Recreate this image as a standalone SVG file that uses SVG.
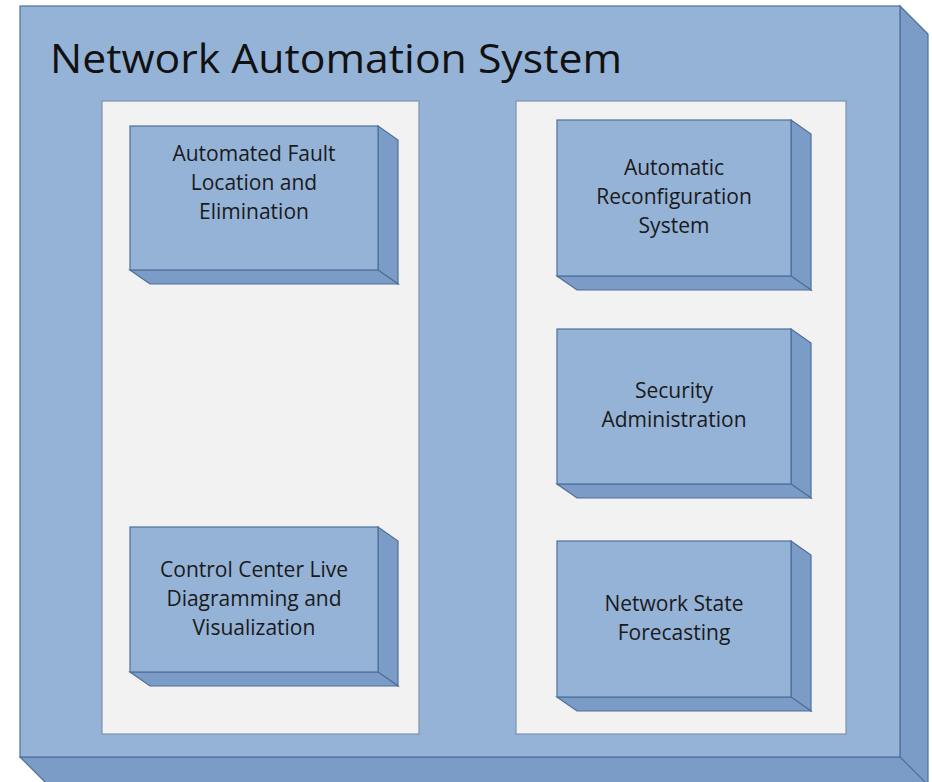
<svg xmlns="http://www.w3.org/2000/svg" width="932" height="782" viewBox="0 0 932 782">
<style>
.front{fill:#95b3d7;stroke:#4f6f99;stroke-width:1.2}
.side{fill:#7c9cc8;stroke:#4f6f99;stroke-width:1.2;stroke-linejoin:miter}
.panel{fill:#f2f2f2;stroke:#7f91ac;stroke-width:1.2}
.lbl{font-family:"Open Sans","Liberation Sans",sans-serif;font-size:21px;fill:#1a1a1a;text-anchor:middle}
.title{font-family:"Open Sans","Liberation Sans",sans-serif;font-size:40px;fill:#111}
</style>
<rect width="932" height="782" fill="#ffffff"/>
<g id="system">
<polygon class="side" points="900,6 928,34 928,790 900,757"/>
<polygon class="side" points="20,757 900,757 928,785 48,785"/>
<rect class="front" x="20" y="6" width="880" height="751"/>
<text class="title" x="50" y="73" textLength="572" lengthAdjust="spacingAndGlyphs">Network Automation System</text>
</g>
<g id="panel-left"><rect class="panel" x="102" y="101" width="317" height="633"/></g>
<g id="panel-right"><rect class="panel" x="516" y="101" width="330" height="633"/></g>
<g id="fault">
<polygon class="side" points="378,126 398,140 398,284 378,270"/>
<polygon class="side" points="130,270 378,270 398,284 150,284"/>
<rect class="front" x="130" y="126" width="248" height="144"/>
<text class="lbl"><tspan x="254" y="161">Automated Fault</tspan><tspan x="254" y="190">Location and</tspan><tspan x="254" y="219">Elimination</tspan></text>
</g>
<g id="livediagram">
<polygon class="side" points="378,527 398,541 398,686 378,672"/>
<polygon class="side" points="130,672 378,672 398,686 150,686"/>
<rect class="front" x="130" y="527" width="248" height="145"/>
<text class="lbl"><tspan x="254" y="577">Control Center Live</tspan><tspan x="254" y="606">Diagramming and</tspan><tspan x="254" y="635">Visualization</tspan></text>
</g>
<g id="reconfig">
<polygon class="side" points="791,120 811,134 811,290 791,276"/>
<polygon class="side" points="557,276 791,276 811,290 577,290"/>
<rect class="front" x="557" y="120" width="234" height="156"/>
<text class="lbl"><tspan x="674" y="175">Automatic</tspan><tspan x="674" y="204">Reconfiguration</tspan><tspan x="674" y="233">System</tspan></text>
</g>
<g id="security">
<polygon class="side" points="791,329 811,343 811,498 791,484"/>
<polygon class="side" points="557,484 791,484 811,498 577,498"/>
<rect class="front" x="557" y="329" width="234" height="155"/>
<text class="lbl"><tspan x="674" y="398">Security</tspan><tspan x="674" y="427">Administration</tspan></text>
</g>
<g id="forecast">
<polygon class="side" points="791,541 811,555 811,711 791,697"/>
<polygon class="side" points="557,697 791,697 811,711 577,711"/>
<rect class="front" x="557" y="541" width="234" height="156"/>
<text class="lbl"><tspan x="674" y="611">Network State</tspan><tspan x="674" y="640">Forecasting</tspan></text>
</g>
<g id="connectors"></g>
</svg>
